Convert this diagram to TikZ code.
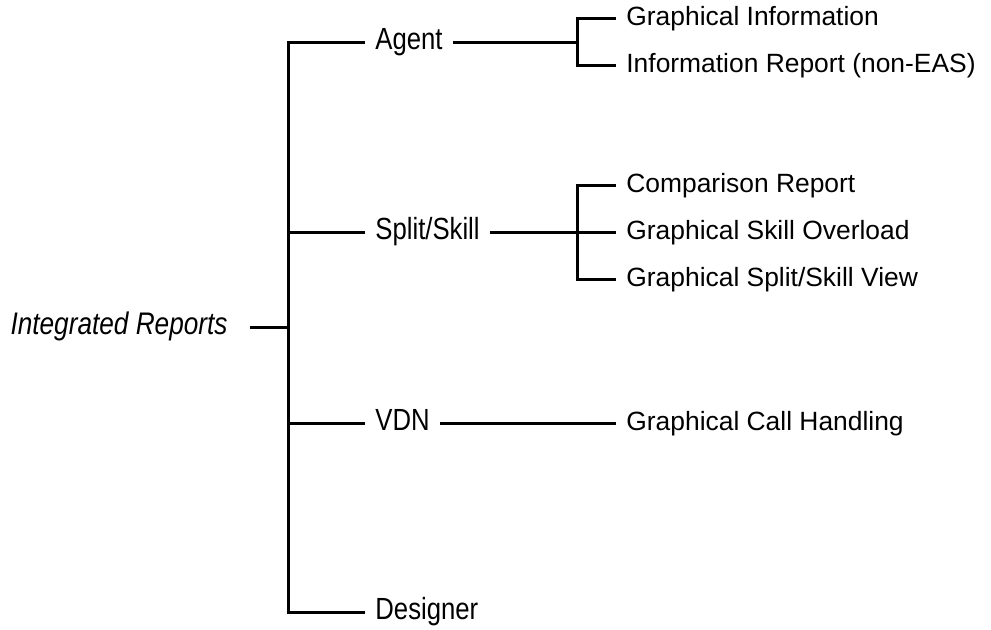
\documentclass[tikz,border=0pt]{standalone}
\usepackage{fontspec}
\setmainfont{Liberation Sans}
\newfontfamily\condfont[FakeStretch=0.84]{Liberation Sans}
\usetikzlibrary{positioning, calc}
\tikzstyle{root} = [anchor=east, inner xsep=11pt, text height=0.72em, text depth=0pt, font=\condfont\itshape\fontsize{15.6}{18}\selectfont]
\tikzstyle{group} = [anchor=west, inner xsep=5pt, text height=0.72em, text depth=0pt, font=\condfont\fontsize{15.3}{18}\selectfont]
\tikzstyle{leaf} = [anchor=west, inner xsep=5pt, text height=0.72em, text depth=0pt, font=\fontsize{13.2}{16}\selectfont]
\tikzstyle{line} = [draw, line width=1.5pt]

\begin{document}
\begin{tikzpicture}[x=0.5pt, y=-0.5pt]
        \useasboundingbox (0,0) rectangle (991,629);
        % Nodes
        \node [root] (rep) at (250,327) {Integrated Reports};
        \coordinate (hub) at (288,327);
        \node [group] (agent) at (365,42) {Agent};
        \node [group] (split) at (365,232) {Split/Skill};
        \node [group] (vdn) at (365,423) {VDN};
        \node [group] (des) at (365,612) {Designer};
        \coordinate (ahub) at (577,42);
        \coordinate (shub) at (577,232);
        \node [leaf] (ginfo) at (616,18) {Graphical Information};
        \node [leaf] (irep) at (616,65) {Information Report (non-EAS)};
        \node [leaf] (comp) at (616,185) {Comparison Report};
        \node [leaf] (over) at (616,232) {Graphical Skill Overload};
        \node [leaf] (sview) at (616,279) {Graphical Split/Skill View};
        \node [leaf] (call) at (616,423) {Graphical Call Handling};

        % Edges
        \path [line] (rep) -- (hub);
        \path [line] (agent.west) -| (hub) |- (des.west);
        \path [line] (split.west -| hub) -- (split.west);
        \path [line] (vdn.west -| hub) -- (vdn.west);
        \path [line] (agent.east) -- (ahub);
        \path [line] (ginfo.west) -| (ahub) |- (irep.west);
        \path [line] (split.east) -- (over.west);
        \path [line] (comp.west) -| (shub) |- (sview.west);
        \path [line] (vdn.east) -- (call.west);
    \end{tikzpicture}
\end{document}
